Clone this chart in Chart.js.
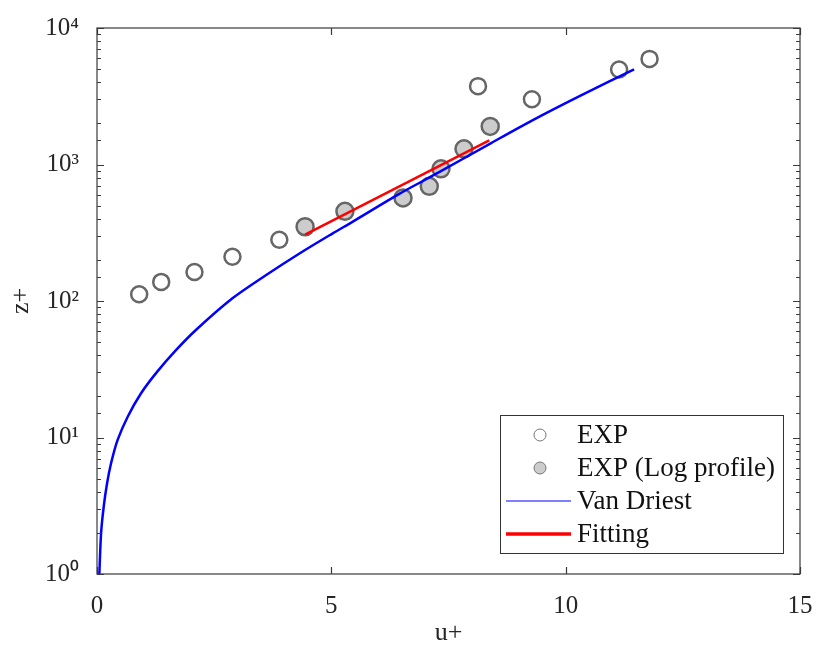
<!DOCTYPE html>
<html>
<head>
<meta charset="utf-8">
<script src="https://cdn.jsdelivr.net/npm/chart.js@4"></script>
<style>
  body { margin: 0; background: #fff; }
  canvas { display: block; }
</style>
</head>
<body>
<canvas id="myChart" width="816" height="653"></canvas>
<script>
// EXP (open circles)
const expU = [0.90, 1.37, 2.08, 2.89, 3.89, 8.13, 9.28, 11.14, 11.79]
const expZ = [112, 138, 163, 211, 281, 3750, 3006, 4966, 5940]

// EXP (Log profile), filled circles
const logU = [4.44, 5.29, 6.53, 7.09, 7.34, 7.83, 8.39]
const logZ = [350, 454, 569, 692, 929, 1303, 1901]

// Van Driest curve
const vdU = [0.05, 0.087, 0.143, 0.215, 0.30, 0.44, 0.655, 0.94, 1.29, 1.69, 2.11, 2.89, 3.61, 4.32, 5.03, 5.45, 6.45, 7.3, 8.4, 9.29, 10.36, 11.46]
const vdZ = [1, 1.99, 3.11, 4.62, 6.47, 9.6, 14.2, 21.1, 30.5, 43.8, 61.3, 104.6, 155, 223, 313, 380, 609, 878, 1430, 2107, 3250, 4970]

// Fitting line (straight on semi-log axes)
const fitU = [4.44, 8.37]
const fitZ = [306, 1500]

const xTicks = [0, 5, 10, 15]
const yDecades = [1, 10, 100, 1000, 10000]
const sup = ['\u2070', '\u00b9', '\u00b2', '\u00b3', '\u2074']

const toPts = (us, zs) => us.map((u, i) => ({ x: u, y: zs[i] }))

const FONT = 'Liberation Serif, Times New Roman, serif'
const TXT = '#262626'

// inward ticks + box, MATLAB style
const boxPlugin = {
    id: 'box',
    afterDatasetsDraw(chart) {
        const { ctx, chartArea: a, scales } = chart
        ctx.save()
        ctx.strokeStyle = '#3a3a3a'
        ctx.lineWidth = 1.2
        ctx.beginPath()
        scales.y.ticks.forEach(t => {
            const y = Math.round(scales.y.getPixelForValue(t.value)) + 0.5
            const len = yDecades.includes(t.value) ? 7 : 4
            ctx.moveTo(a.left, y); ctx.lineTo(a.left + len, y)
            ctx.moveTo(a.right, y); ctx.lineTo(a.right - len, y)
        })
        xTicks.forEach(v => {
            const x = Math.round(scales.x.getPixelForValue(v)) + 0.5
            ctx.moveTo(x, a.bottom); ctx.lineTo(x, a.bottom - 7)
            ctx.moveTo(x, a.top); ctx.lineTo(x, a.top + 7)
        })
        ctx.stroke()
        ctx.strokeRect(a.left, a.top, a.right - a.left, a.bottom - a.top)
        ctx.restore()
    },
    afterDraw(chart) {
        // legend box inside the axes, lower right
        const { ctx } = chart
        const ds = chart.data.datasets
        const bx = 500, by = 415, bw = 283, bh = 138
        const rows = [435, 468, 501, 534]
        ctx.save()
        ctx.fillStyle = '#fff'
        ctx.fillRect(bx, by, bw, bh)
        ctx.strokeStyle = '#333'
        ctx.lineWidth = 1
        ctx.strokeRect(bx + 0.5, by + 0.5, bw, bh)
        ds.forEach((d, i) => {
            const y = rows[i]
            if (d.showLine) {
                ctx.strokeStyle = d.borderColor
                ctx.lineWidth = d.legendWidth
                ctx.beginPath()
                ctx.moveTo(506, y); ctx.lineTo(571, y)
                ctx.stroke()
            } else {
                ctx.beginPath()
                ctx.arc(540, y, 6, 0, Math.PI * 2)
                ctx.fillStyle = d.backgroundColor
                ctx.fill()
                ctx.strokeStyle = '#777'
                ctx.lineWidth = 1
                ctx.stroke()
            }
            ctx.fillStyle = '#111'
            ctx.font = '27px ' + FONT
            ctx.textBaseline = 'middle'
            ctx.fillText(d.label, 577, y + 1)
        })
        ctx.restore()
    }
}

new Chart(document.getElementById('myChart'), {
    type: 'scatter',
    data: {
        datasets: [{
            label: 'EXP',
            data: toPts(expU, expZ),
            backgroundColor: '#ffffff',
            borderColor: '#666666',
            borderWidth: 2.5,
            pointRadius: 8,
            order: 3
        }, {
            label: 'EXP (Log profile)',
            data: toPts(logU, logZ),
            backgroundColor: '#cccccc',
            borderColor: '#666666',
            borderWidth: 2.5,
            pointRadius: 8.5,
            order: 2
        }, {
            label: 'Van Driest',
            data: toPts(vdU, vdZ),
            showLine: true,
            borderColor: '#0000ff',
            borderWidth: 2.5,
            legendWidth: 1,
            pointRadius: 0,
            tension: 0.3,
            order: 1
        }, {
            label: 'Fitting',
            data: toPts(fitU, fitZ),
            showLine: true,
            borderColor: '#ff0000',
            borderWidth: 2.5,
            legendWidth: 3.5,
            pointRadius: 0,
            order: 0
        }]
    },
    options: {
        responsive: false,
        animation: false,
        devicePixelRatio: 1,
        layout: { padding: { top: 28, right: 16, left: 0, bottom: 0 } },
        plugins: {
            legend: { display: false },
            tooltip: { enabled: false }
        },
        scales: {
            x: {
                type: 'linear',
                min: 0,
                max: 15,
                afterFit: s => { s.height = 79; s.paddingLeft = 0; s.paddingRight = 0 },
                afterBuildTicks: s => { s.ticks = xTicks.map(v => ({ value: v })) },
                ticks: { font: { family: FONT, size: 25 }, color: TXT, padding: 9, maxRotation: 0 },
                grid: { display: false },
                border: { display: false },
                title: { display: true, text: 'u+', font: { family: FONT, size: 26 }, color: TXT, padding: { top: 0, bottom: 4 } }
            },
            y: {
                type: 'logarithmic',
                min: 1,
                max: 10000,
                afterFit: s => { s.width = 97; s.paddingTop = 0; s.paddingBottom = 0 },
                ticks: {
                    autoSkip: false,
                    font: { family: FONT, size: 25 },
                    color: TXT,
                    padding: 10,
                    callback: v => {
                        const i = yDecades.indexOf(v)
                        return i >= 0 ? '10' + sup[i] : ''
                    }
                },
                grid: { display: false },
                border: { display: false },
                title: { display: true, text: 'z+', font: { family: FONT, size: 26 }, color: TXT, padding: { top: 6, bottom: 0 } }
            }
        }
    },
    plugins: [boxPlugin]
})
</script>
</body>
</html>
